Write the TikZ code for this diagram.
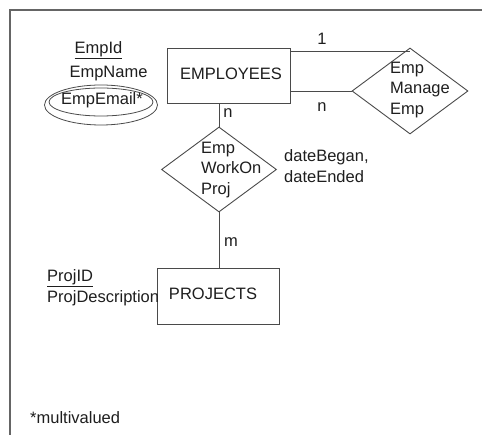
\documentclass[tikz,border=0pt]{standalone}
\usepackage{fontspec}
\setmainfont{Liberation Sans}
\usetikzlibrary{shapes.geometric}
\definecolor{edgegray}{HTML}{4A4A4A}
\definecolor{inkgray}{HTML}{1E1E1E}
\tikzset{
  entity/.style={draw=edgegray, line width=0.9pt, fill=white, minimum width=123pt, minimum height=55pt, inner sep=0pt},
  relship/.style={diamond, draw=edgegray, line width=0.9pt, inner sep=0pt},
  lbl/.style={text=inkgray, inner sep=0pt, font=\fontsize{16.5}{20.5}\selectfont},
  link/.style={draw=edgegray, line width=0.9pt},
  ring/.style={draw=edgegray, line width=0.8pt, ellipse, inner sep=0pt},
  frameline/.style={draw=edgegray!85, line width=1.6pt}
}
\begin{document}
\begin{tikzpicture}[x=1pt, y=-1pt]
\useasboundingbox (0,0) rectangle (482,435);
% page frame (top and left edges)
\draw[frameline] (482,10) -- (10,10) -- (10,435);

% entities
\node[entity] (emp) at (228.5,75.5) {};
\node[lbl] (empt) at (231,74) {EMPLOYEES};
\node[entity, minimum width=122pt, minimum height=56pt] (proj) at (218,296) {};
\node[lbl] (projt) at (213,294) {PROJECTS};

% relationships
\node[relship, minimum width=116pt, minimum height=86pt] (mgr) at (410,91) {};
\node[lbl, align=left, anchor=west] (mgrt) at (390,90) {Emp\\Manage\\Emp};
\node[relship, minimum width=115pt, minimum height=85pt] (wo) at (219,169.5) {};
\node[lbl, align=left, anchor=west] (wot) at (201,170) {Emp\\WorkOn\\Proj};

% relationship attributes
\node[lbl, align=left, anchor=west] (dates) at (284,166) {dateBegan,\\dateEnded};

% employee attributes
\node[lbl] (eid) at (98.5,50) {\underline{EmpId}};
\node[lbl] (ename) at (108.5,74) {EmpName};
\node[ring, minimum width=113pt, minimum height=40pt] (emailo) at (101,105) {};
\node[ring, minimum width=104pt, minimum height=28pt] (emaili) at (101,102) {};
\node[lbl] (email) at (102,100) {EmpEmail*};

% project attributes
\node[lbl, anchor=west] (pid) at (47,278) {\underline{ProjID}};
\node[lbl, anchor=west] (pdesc) at (47,298) {ProjDescription};

% footnote
\node[lbl, anchor=west] (note) at (30,418) {*multivalued};

% connectors
\path (emp.north east) ++(0,4) coordinate (m1);
\draw[link] (m1) -- (m1 -| mgr.north);
\draw[link] (emp.east |- mgr.west) -- (mgr.west);
\draw[link] (emp.south -| wo.north) -- (wo.north);
\draw[link] (wo.south) -- (wo.south |- proj.north);

% cardinalities
\node[lbl] (c1) at (322,39) {1};
\node[lbl] (c2) at (322,107) {n};
\node[lbl] (c3) at (228,113) {n};
\node[lbl] (c4) at (231,242) {m};
\end{tikzpicture}
\end{document}
